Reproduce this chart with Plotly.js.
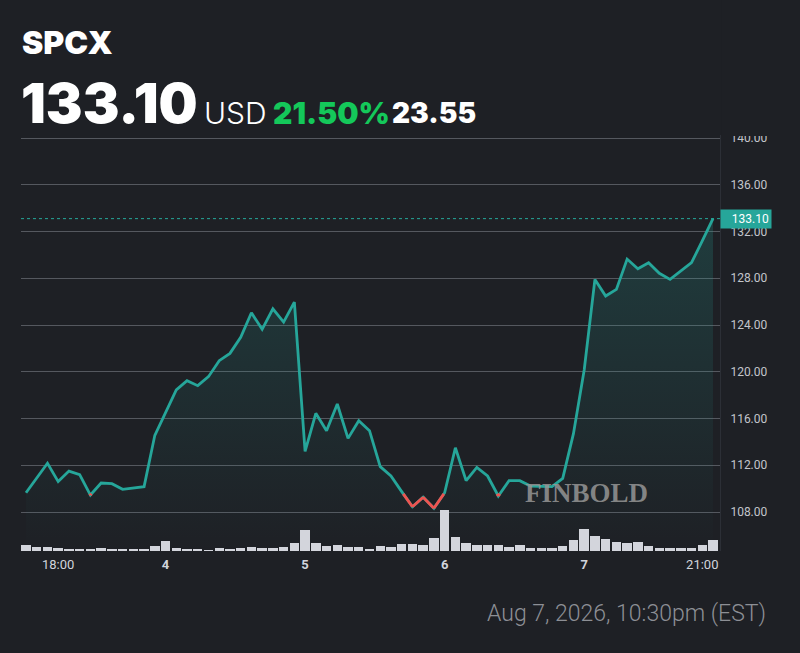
<!DOCTYPE html>
<html>
<head>
<meta charset="utf-8">
<script src="https://cdn.plot.ly/plotly-3.0.1.min.js"></script>
<style>
  html, body { margin: 0; padding: 0; background: #1e2025; }
  #chart { width: 800px; height: 653px; }
</style>
</head>
<body>
<div id="chart"></div>
<script>
// ---- data ----
const ticker = "SPCX";
const lastPrice = 133.10;
const currency = "USD";
const changePct = "21.50%";
const changeAbs = 23.55;
const timestamp = "Aug 7, 2026, 10:30pm (EST)";
const watermark = "FINBOLD";

const price = [
  109.65, 110.90, 112.17, 110.60, 111.50, 111.20, 109.45, 110.48, 110.42, 109.94,
  110.03, 110.17, 114.56, 116.44, 118.44, 119.23, 118.81, 119.58, 120.95, 121.57,
  122.94, 125.05, 123.63, 125.39, 124.25, 125.96, 113.19, 116.44, 114.96, 117.24,
  114.30, 115.81, 114.96, 111.88, 111.08, 109.74, 108.45, 109.26, 108.32, 109.65,
  113.50, 110.68, 111.82, 111.08, 109.37, 110.68, 110.68, 110.22, 110.17, 110.17,
  110.88, 114.70, 120.15, 127.90, 126.48, 127.05, 129.64, 128.82, 129.33, 128.42,
  127.90, 128.64, 129.33, 131.20, 133.10
];

const volume = [
  63, 37, 37, 27, 17, 17, 17, 27, 17, 17, 17, 17, 53,
  100, 30, 25, 25, 15, 35, 25, 30, 40, 35, 30, 40, 80,
  215, 80, 47, 63, 40, 40, 23, 47, 40, 70, 70, 63, 127,
  407, 137, 83, 57, 63, 63, 40, 57, 33, 33, 33, 47, 113,
  217, 147, 123, 87, 80, 87, 47, 33, 33, 33, 33, 63, 113
];

const tickIndex = [3, 13, 26, 39, 52, 63];
const tickLabels = ["18:00", "<b>4</b>", "<b>5</b>", "<b>6</b>", "<b>7</b>", "21:00"];
const priceTicks = [108, 112, 116, 120, 124, 128, 132, 136, 140];

// ---- derived ----
const prevClose = +(lastPrice - changeAbs).toFixed(2);
const idx = price.map((_, i) => i);

// red segments where price is below previous close
const redX = [], redY = [];
for (let i = 0; i < price.length - 1; i++) {
  const a = price[i], b = price[i + 1];
  if (a >= prevClose && b >= prevClose) continue;
  let x0 = i, y0 = a, x1 = i + 1, y1 = b;
  if (a >= prevClose) { x0 = i + (a - prevClose) / (a - b); y0 = prevClose; }
  if (b >= prevClose) { x1 = i + (prevClose - a) / (b - a); y1 = prevClose; }
  redX.push(x0, x1, null); redY.push(y0, y1, null);
}

// ---- layout geometry (pixels) ----
const W = 800, H = 653;
const L = 21, R = 720, T = 135, B = 551;
const pw = R - L, ph = B - T;
const px = x => (x - L) / pw;
const py = y => (B - y) / ph;

const pxPerUnit = (512 - 138) / 32;
const yMin = 108 - (B - 512) / pxPerUnit;
const yMax = 140 + (138 - T) / pxPerUnit;
const slot = (713 - 26) / (price.length - 1);
const xMin = -(26 - L) / slot;
const xMax = (price.length - 1) + (R - 713) / slot;

const teal = "#26a69a";
const red = "#ef5350";
const bg = "#1e2025";

const traces = [
  {
    type: "bar", x: idx, y: volume, yaxis: "y2", xaxis: "x",
    marker: { color: "#d3d5dc", line: { width: 0 } },
    width: 0.88, hoverinfo: "skip"
  },
  {
    type: "scatter", mode: "lines", x: idx, y: price,
    line: { color: teal, width: 2.8 },
    fill: "tozeroy",
    fillgradient: {
      type: "vertical", start: yMin, stop: 134,
      colorscale: [[0, "rgba(38,166,154,0.0)"], [1, "rgba(38,166,154,0.22)"]]
    },
    hoverinfo: "skip"
  },
  {
    type: "scatter", mode: "lines", x: redX, y: redY,
    line: { color: red, width: 2.8 }, connectgaps: false, hoverinfo: "skip"
  }
];

const annotations = [
  { text: ticker, x: px(20), y: py(42), xanchor: "left", yanchor: "middle",
    font: { family: "Inter", size: 32, color: "#ffffff", weight: 900 } },
  { text: lastPrice.toFixed(2), x: px(19), y: py(103), xanchor: "left", yanchor: "middle",
    font: { family: "Inter", size: 55, color: "#ffffff", weight: 900 } },
  { text: currency, x: px(202), y: py(113), xanchor: "left", yanchor: "middle",
    font: { family: "Inter", size: 30, color: "#ffffff", weight: 300 } },
  { text: changePct, x: px(271), y: py(113), xanchor: "left", yanchor: "middle",
    font: { family: "Inter", size: 30, color: "#14c85a", weight: 900 } },
  { text: changeAbs.toFixed(2), x: px(390), y: py(113), xanchor: "left", yanchor: "middle",
    font: { family: "Inter", size: 28, color: "#ffffff", weight: 900 } },
  { text: timestamp, x: px(768), y: py(613), xanchor: "right", yanchor: "middle",
    font: { family: "Roboto", size: 23, color: "#8d8f95", weight: 300 } },
  { text: watermark, x: px(586), y: py(493), xanchor: "center", yanchor: "middle",
    font: { family: "Liberation Serif", size: 27, color: "rgba(150,150,150,0.85)", weight: 700 } },
  { text: lastPrice.toFixed(2), x: 1, xref: "paper", y: lastPrice, yref: "y",
    xanchor: "left", yanchor: "middle", bgcolor: teal, borderpad: 2,
    width: 46, align: "right",
    font: { family: "Roboto", size: 12, color: "#ffffff" } }
].map(a => Object.assign({ xref: "paper", yref: "paper", showarrow: false }, a));

const layout = {
  width: W, height: H,
  paper_bgcolor: bg, plot_bgcolor: bg,
  margin: { l: L, r: W - R, t: T, b: H - B, pad: 0 },
  showlegend: false,
  bargap: 0,
  xaxis: {
    range: [xMin, xMax], showgrid: false, zeroline: false, showline: false,
    tickvals: tickIndex, ticktext: tickLabels, ticks: "", ticklabelstandoff: 4,
    tickfont: { family: "Roboto", size: 13, color: "#d1d4dc" },
    fixedrange: true
  },
  yaxis: {
    side: "right", range: [yMin, yMax], tickvals: priceTicks,
    ticktext: priceTicks.map(v => v.toFixed(2)),
    showgrid: true, gridcolor: "#55585f", gridwidth: 1,
    zeroline: false, showline: true, linecolor: "#2c2f36", linewidth: 1,
    ticks: "", ticklabelstandoff: 7,
    tickfont: { family: "Roboto", size: 12, color: "#c3c5cb" },
    fixedrange: true
  },
  yaxis2: {
    overlaying: "y", range: [0, ph * 10], showgrid: false, zeroline: false,
    showticklabels: false, showline: false, fixedrange: true
  },
  shapes: [
    { type: "line", xref: "paper", x0: 0, x1: 1, yref: "y", y0: lastPrice, y1: lastPrice,
      line: { color: teal, width: 1, dash: "dot" } },
    { type: "rect", xref: "paper", yref: "paper", x0: 1.002, x1: px(800), y0: py(T + 1), y1: py(0),
      fillcolor: bg, line: { width: 0 }, layer: "above" }
  ],
  annotations: annotations
};

Plotly.newPlot("chart", traces, layout, { displayModeBar: false, staticPlot: true });
</script>
</body>
</html>
